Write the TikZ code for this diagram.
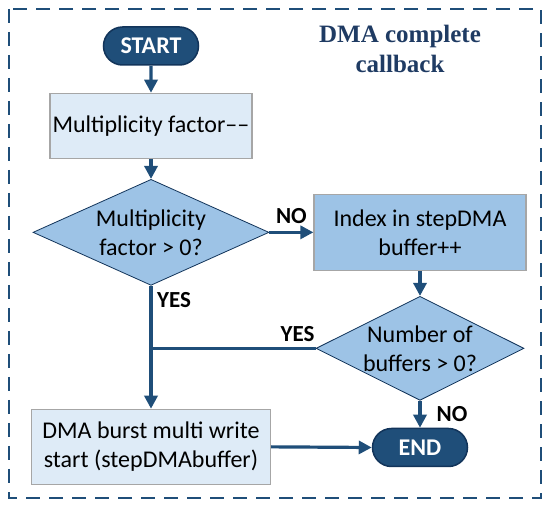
\documentclass[tikz,border=0pt]{standalone}
\usepackage{fontspec}
\setmainfont{Carlito}
\newfontfamily\titlefont{Liberation Serif}
\usetikzlibrary{positioning,arrows.meta,shapes.geometric,shapes.misc}
\definecolor{navy}{HTML}{1F4E79}
\definecolor{navydark}{HTML}{12345A}
\definecolor{paleblue}{HTML}{DEEBF7}
\definecolor{midblue}{HTML}{9DC3E6}
\definecolor{boxgray}{HTML}{A6A6A6}
\definecolor{titleblue}{HTML}{1F3B63}
\tikzset{
  terminal/.style={rounded rectangle, draw=navydark, line width=1.5pt, fill=navy,
    text=white, font=\fontsize{24}{28}\selectfont\bfseries,
    minimum width=95pt, minimum height=38pt, inner sep=0pt},
  process/.style={rectangle, draw=boxgray, line width=1.2pt, fill=paleblue,
    font=\fontsize{24}{29}\selectfont, align=center, inner sep=0pt},
  processdark/.style={process, fill=midblue},
  decision/.style={diamond, draw=navydark, line width=0.8pt, fill=midblue,
    font=\fontsize{24}{29}\selectfont, align=center, aspect=2, inner sep=0pt},
  flow/.style={draw=navy, line width=3.2pt, -{Triangle[length=13pt,width=13pt]}},
  flowline/.style={draw=navy, line width=3.2pt},
  answer/.style={font=\fontsize{23}{26}\selectfont\bfseries, inner sep=1pt},
  frame/.style={draw=navy, line width=2.5pt, dash pattern=on 14pt off 9pt}
}

\begin{document}
\begin{tikzpicture}[x=1pt,y=-1pt]
    \useasboundingbox (0,0) rectangle (550,508);
    \draw[frame] (9,9) rectangle (541,498);

    \node[font=\titlefont\fontsize{25}{30}\selectfont\bfseries, text=titleblue, align=center]
      (title) at (400,49) {DMA complete\\callback};

    % left column
    \node[terminal] (start) at (151,46) {START};
    \node[process, minimum width=202pt, minimum height=65pt, below=27pt of start]
      (mult) {Multiplicity factor\textendash\textendash};
    \node[decision, minimum width=236pt, minimum height=106pt, below=20pt of mult]
      (multtest) {Multiplicity\\factor > 0?};
    \node[process, minimum width=239pt, minimum height=75pt, below=123pt of multtest]
      (burst) {DMA burst multi write\\start (stepDMAbuffer)};

    % right column
    \node[processdark, minimum width=212pt, minimum height=76pt, right=44pt of multtest]
      (index) {Index in stepDMA\\buffer++};
    \node[decision, minimum width=208pt, minimum height=104pt, below=25pt of index]
      (buftest) {Number of\\buffers > 0?};
    \node[terminal, below=27pt of buftest] (end) {END};

    \draw[flow] (start) -- (mult);
    \draw[flow] (mult) -- (multtest);
    \draw[flow] (multtest.east) -- node[answer, above=6pt] {NO} (index.west);
    \draw[flow] (index) -- (buftest);
    \draw[flow] (multtest.south) -- (burst.north);
    \draw[flowline] (buftest.west) -- (buftest.west -| multtest.south);
    \draw[flow] (buftest.south) -- node[answer, right=14pt] {NO} (end.north);
    \draw[flow] (burst.east) -- (end.west);

    \node[answer, below right=5pt and 5pt of multtest.south] (yes1) {YES};
    \node[answer, above left=5pt and 0pt of buftest.west] (yes2) {YES};
\end{tikzpicture}
\end{document}
